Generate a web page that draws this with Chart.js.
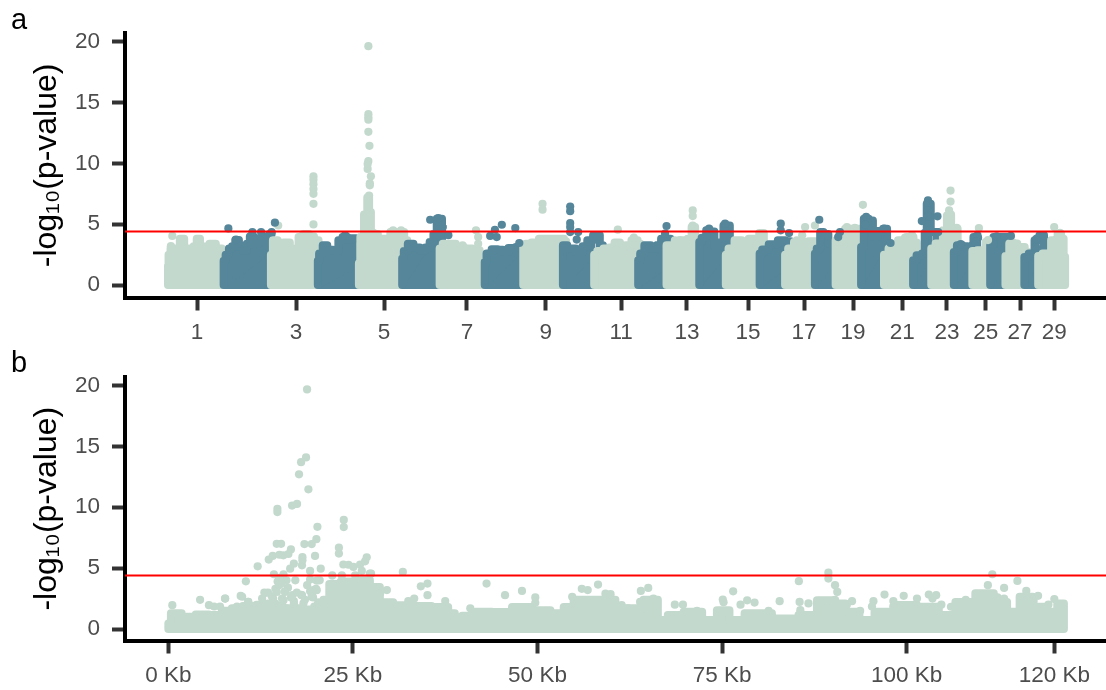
<!DOCTYPE html>
<html>
<head>
<meta charset="utf-8">
<style>
  html, body { margin: 0; padding: 0; background: #fff; }
  canvas { display: block; }
</style>
<script src="https://cdn.jsdelivr.net/npm/chart.js@4/dist/chart.umd.js"></script>
</head>
<body>
<canvas id="panelA" width="1106" height="345"></canvas>
<canvas id="panelB" width="1106" height="345"></canvas>
<script>
// --- DATA ---
const yTickValues = [0, 5, 10, 15, 20];
const threshold = 4.4;

// panel a: genome position (Mb) and chromosome labels
const chromTicks = [91, 363, 605, 833, 1050, 1257, 1438, 1606, 1760, 1895, 2030, 2153, 2260, 2354, 2448];
const chromLabels = ['1', '3', '5', '7', '9', '11', '13', '15', '17', '19', '21', '23', '25', '27', '29'];

// top of the dense cloud of each chromosome, [Mb, -log10 p]
const chromTops = [
  [[11,0],[11,1.6],[14,2.5],[22,3.0],[38,2.8],[49,3.8],[62,2.7],[77,3.0],[86,3.2],[94,3.8],[104,3.2],[115,3.0],[135,3.4],[150,3.0],[168,2.8],[172,2.8],[172,0]],
  [[164,0],[164,2.0],[175,2.5],[182,3.0],[192,3.2],[200,3.7],[212,3.2],[223,2.8],[232,3.4],[240,4.0],[253,3.3],[262,3.6],[272,4.0],[285,3.6],[296,4.2],[292,2.6],[286,1.0],[286,0]],
  [[294,0],[294,2.5],[305,3.68],[320,3.3],[337,3.5],[355,2.9],[366,3.0],[374,3.95],[392,4.2],[405,4.0],[420,3.68],[430,3.0],[430,0]],
  [[423,0],[423,2.0],[430,2.6],[443,3.27],[455,2.9],[475,2.8],[484,3.68],[498,3.95],[510,3.7],[520,3.85],[535,3.8],[546,3.8],[535,1.5],[530,0]],
  [[536,0],[536,1.8],[544,3.95],[556,5.8],[562,7.2],[566,6.0],[572,4.3],[580,4.2],[596,3.8],[615,3.8],[630,4.36],[645,3.9],[654,4.36],[667,3.68],[671,2.5],[671,0]],
  [[655,0],[655,2.18],[664,2.8],[677,3.4],[695,3.1],[712,2.86],[725,3.1],[736,3.55],[746,4.2],[754,5.45],[762,5.45],[767,4.77],[762,2.0],[762,0]],
  [[758,0],[758,3.0],[775,3.4],[791,3.4],[814,3.14],[836,3.0],[859,2.86],[877,2.45],[892,2.4],[892,0]],
  [[882,0],[882,1.9],[892,2.6],[910,2.95],[925,2.9],[938,2.73],[956,3.05],[979,3.14],[992,2.86],[985,0]],
  [[988,0],[988,3.2],[1001,3.4],[1020,3.5],[1042,3.8],[1067,3.8],[1094,3.8],[1106,3.6],[1106,0]],
  [[1097,0],[1097,3.27],[1121,3.0],[1144,2.73],[1158,3.2],[1170,3.68],[1190,4.1],[1207,3.27],[1190,2.5],[1186,0]],
  [[1183,0],[1183,2.5],[1200,2.8],[1217,3.0],[1232,3.1],[1246,3.5],[1262,3.2],[1276,3.27],[1295,3.68],[1310,3.4],[1310,0]],
  [[1304,0],[1304,2.05],[1315,2.6],[1327,3.27],[1350,3.0],[1362,3.3],[1372,3.82],[1386,3.8],[1400,3.0],[1389,1.5],[1384,0]],
  [[1382,0],[1382,3.27],[1400,3.27],[1433,3.68],[1447,3.8],[1455,4.77],[1466,3.8],[1480,3.6],[1480,0]],
  [[1472,0],[1472,3.55],[1485,3.9],[1497,4.5],[1507,4.4],[1520,3.14],[1534,3.5],[1543,4.9],[1551,4.9],[1561,2.86],[1551,0]],
  [[1545,0],[1545,2.5],[1560,3.0],[1578,3.68],[1600,3.4],[1616,3.82],[1630,3.7],[1644,4.28],[1655,2.6],[1655,0]],
  [[1638,0],[1638,2.6],[1652,2.92],[1674,3.35],[1702,3.68],[1716,3.6],[1730,2.86],[1719,1.5],[1712,0]],
  [[1708,0],[1708,2.5],[1725,3.0],[1740,3.55],[1763,3.55],[1782,3.6],[1800,3.0],[1800,0]],
  [[1790,0],[1790,2.6],[1800,3.0],[1809,4.36],[1818,4.2],[1836,3.4],[1859,3.0],[1867,2.9],[1852,2.0],[1850,0]],
  [[1847,0],[1847,3.68],[1865,4.2],[1881,4.64],[1914,4.64],[1930,3.0],[1930,0]],
  [[1917,0],[1917,3.14],[1932,5.45],[1944,5.3],[1955,3.95],[1969,4.45],[1986,4.64],[1991,3.4],[1982,0]],
  [[1980,0],[1980,2.5],[2005,3.0],[2032,3.68],[2052,3.95],[2070,3.5],[2070,0]],
  [[2060,0],[2060,2.05],[2079,2.45],[2090,2.6],[2094,4.3],[2101,6.68],[2106,6.68],[2111,4.36],[2134,4.36],[2115,2.5],[2113,0]],
  [[2110,0],[2110,3.0],[2134,3.41],[2150,4.5],[2156,5.73],[2162,5.8],[2167,4.6],[2180,4.64],[2185,3.0],[2185,0]],
  [[2172,0],[2172,2.73],[2189,3.27],[2203,3.2],[2217,2.86],[2235,3.95],[2239,3.9],[2233,2.2],[2226,0]],
  [[2223,0],[2223,2.8],[2250,2.86],[2269,3.55],[2285,3.0],[2285,0]],
  [[2272,0],[2272,3.27],[2290,3.95],[2317,3.95],[2335,2.86],[2321,1.5],[2318,0]],
  [[2314,0],[2314,2.4],[2335,3.41],[2358,3.14],[2376,2.73],[2376,0]],
  [[2366,0],[2366,2.3],[2390,2.6],[2398,3.68],[2417,4.09],[2423,2.7],[2408,0]],
  [[2404,0],[2404,2.4],[2428,2.6],[2451,3.68],[2464,4.23],[2470,3.8],[2478,2.32],[2478,0]]
];

// single SNPs standing out of the cloud
const lightHits = [
  [23,4.04],[19,3.2],[314,4.9],[411,8.95],[411,8.67],[411,8.3],[411,7.9],[411,7.5],[411,6.68],[411,4.99],
  [562,19.64],[562,14.05],[562,13.8],[562,13.6],[562,12.6],[565,11.45],[562,10.2],[560,9.96],[560,9.55],
  [569,8.95],[566,8.37],[566,8.2],[564,7.36],[630,4.5],[652,4.5],[858,4.5],[864,3.95],[864,3.4],[821,3.27],
  [1041,6.68],[1041,6.2],[1248,4.56],[1292,3.9],[1454,6.14],[1454,5.67],[1454,4.9],[1405,3.68],[1419,3.68],
  [1763,4.77],[1755,4.09],[1740,3.68],[1790,4.9],[1922,6.6],[1878,4.77],[1900,4.7],[2038,3.9],[2057,4.1],
  [2163,7.77],[2163,6.87],[2159,6.14],[2180,4.7],[2241,4.69],[2266,3.7],[2335,3.5],[2448,4.77],[2451,3.7],[2464,4.3]
];
const darkHits = [
  [177,4.66],[305,5.13],[198,3.74],[243,4.36],[267,4.36],[296,4.36],[498,4.1],[732,5.37],[754,5.5],[782,4.1],
  [897,4.04],[915,3.95],[910,4.55],[929,4.96],[966,4.69],[977,3.46],[1117,6.46],[1117,6.08],[1117,5.1],[1117,4.77],
  [1117,4.36],[1139,4.36],[1135,3.74],[1382,4.86],[1378,4.23],[1499,4.64],[1543,5.05],[1696,5.05],[1696,4.5],
  [1719,4.28],[1802,5.37],[1859,4.36],[1854,3.95],[1931,5.6],[1928,4.96],[1998,3.46],[1980,4.64],[2101,6.96],
  [2101,6.68],[2101,6.14],[2101,5.6],[2084,5.26],[2127,5.65],[2129,4.36],[2191,3.36],[2237,4.09],[2233,3.55],
  [2290,4.0],[2329,4.04],[2400,3.82],[2418,4.09],[2398,3.1]
];

// panel b: position in Kb
const kbTicks = [0, 25, 50, 75, 100, 120];
const kbTop = [
  [0,0],[0,0.46],[0.7,1.3],[2.9,1.0],[4.5,1.2],[6.5,1.15],[8,1.5],[9.2,1.7],[11,1.9],[12.9,2.0],[14,2.1],[15,1.9],
  [16,1.7],[17.5,1.7],[19,1.6],[20.5,1.85],[21.5,2.4],[22.1,3.7],[24.6,3.9],[26.4,4.0],[28.2,3.45],[29.1,2.2],
  [31.8,1.95],[34,1.9],[37.3,1.8],[38.5,1.3],[39.1,0.87],[40.5,1.1],[42.7,1.43],[45,1.4],[48.1,1.8],[50.4,1.55],
  [53.1,1.3],[54,1.8],[55.8,2.4],[59.9,2.4],[61.2,1.7],[63,1.7],[65.7,2.4],[66.9,0.74],[68.4,1.15],[71.2,1.43],
  [73.4,0.74],[75.2,1.55],[76.8,0.74],[79.3,1.3],[84.2,0.87],[86.5,1.15],[89.2,2.37],[90.6,2.1],[92.8,1.43],
  [94.4,0.74],[96.9,1.43],[99.6,1.97],[103.2,1.83],[105.5,1.15],[107.7,2.23],[110.9,2.93],[112.7,2.23],[114.5,1.43],
  [116.1,2.66],[118.1,1.83],[119.5,1.43],[121.3,2.1],[121.3,0]
];
const kbHits = [
  [18.79,19.67],[18.65,14.09],[17.98,13.7],[17.7,12.7],[18.97,11.47],[16.76,10.14],[17.43,10.27],[14.77,9.86],[14.77,9.6],
  [23.76,8.96],[23.76,8.37],[20.19,8.39],[20.05,7.38],[18.43,6.98],[19.42,6.98],[14.68,7.0],[15.27,7.0],[16.6,6.54],
  [23.1,6.68],[23.1,6.2],[16.26,6.16],[15.58,6.05],[15.04,6.1],[14.14,6.0],[13.6,5.7],[18.16,5.9],[18.16,5.64],[19.87,6.0],
  [12.1,5.15],[20.64,4.96],[26.87,5.89],[26.65,5.56],[23.7,5.3],[24.4,5.28],[25.07,5.1],[25.97,5.3],[17,5.37],[16.5,4.96],
  [18.1,5.23],[19.2,4.77],[14.3,4.5],[15.6,4.5],[27.46,4.55],[26.2,4.77],[10.5,3.92],[17.2,4.0],[16,4.0],[19.2,4.06],[20.5,4.0],
  [4.3,2.4],[0.54,1.96],[7.68,2.5],[9.8,2.72],[13,3.0],[5.5,1.96],[10.84,2.23],[31.76,4.69],[34.2,3.51],[35.1,3.73],[35.1,2.78],
  [43.1,3.73],[45.6,2.78],[47.9,3.13],[40.9,1.7],[49.7,2.6],[49.7,2.15],[56,3.3],[56.8,3.2],[58.2,3.65],[59.2,2.9],[59.9,2.86],
  [54.7,2.65],[29.6,3.2],[37.5,2.3],[32.5,2.3],[33.3,2.5],[89.4,4.63],[89.4,4.14],[85.4,3.93],[90.3,3.6],[90.6,3.05],[76.5,3.1],
  [111.6,4.5],[115,3.95],[113.2,3.38],[111,3.6],[65,3.38],[64,3.13],[63.9,2.23],[61.4,1.97],[75.1,2.42],[78.4,2.36],[79.4,2.17],
  [82.8,2.29],[85.5,2.23],[86.7,2.1],[92.6,2.29],[95.5,2.29],[97,2.83],[99.6,2.73],[101.4,2.5],[103,2.83],[104,2.78],[106,1.83],
  [116.2,3.13],[117.8,2.73],[120,2.46],
  // the hump under the main peak
  [13.5,3.0],[14,2.7],[14.5,3.3],[15,3.6],[15.4,2.5],[15.8,3.1],[16.2,3.4],[16.6,2.6],[17,2.3],[17.4,3.0],[18,2.8],[18.5,2.4],
  [19.2,3.1],[19.6,2.6],[20,3.3],[20.3,2.2],[15,4.2],[14.8,3.9],[18.8,3.6],[19.6,3.2],
  [14.7,3.05],[15.8,3.05],[15.3,3.73],[16.8,2.78],[18.1,2.78],[20.1,3.97],[20.1,3.19],[19.4,2.65],[13.1,2.96],[12.7,2.5],
  [14.2,2.5],[15.6,2.37],[17,2.1],[18.3,2.1],[19.7,1.55],[16,1.7],[14.5,1.7],[10.8,2.23],[10,2.65],[7.7,2.5],[7,1.85],
  [6.2,1.85],[9.3,1.85],[22.2,3.73],[22.2,4.4],[23.5,4.4],[25.3,4.4],[27.3,4.55],[26.4,3.85],[28.7,2.95],
  // bumps along the rest of the region
  [65.7,2.5],[62.3,1.7],[68.6,2.0],[69.7,2.0],[71.6,1.5],[75.2,2.2],[77.5,2.0],[81.3,1.5],[85.6,1.55],[89,2.2],[90.3,2.4],
  [91.9,2.0],[93.7,1.5],[95.3,1.85],[98.2,2.3],[98.2,1.85],[103.5,2.5],[104.7,2.0],[108,2.4],[112.3,2.6],[113.2,2.5],
  [116.1,2.7],[117.2,2.3],[119.2,2.0]
];

// --- STYLE ---
const LIGHT = '#c3d9cd';
const DARK = '#55869a';
const FONT = '"Liberation Sans", Arial, sans-serif';

const toPoints = list => list.map(p => ({ x: p[0], y: p[1] }));

function cloud(list, color, order) {
  return {
    type: 'scatter', data: toPoints(list), showLine: true, pointRadius: 0, order: order,
    borderColor: color, backgroundColor: color, borderWidth: 8, stepped: 'middle',
    borderJoinStyle: 'round', borderCapStyle: 'round', fill: { value: -0.33 }
  };
}
function hits(list, color, order) {
  return { type: 'scatter', data: toPoints(list), showLine: false, pointRadius: 4.1, pointBorderWidth: 0, pointBackgroundColor: color, order: order };
}
function redLine(xMin, xMax) {
  return {
    type: 'scatter', data: [{ x: xMin, y: threshold }, { x: xMax, y: threshold }], showLine: true, pointRadius: 0,
    borderColor: '#ff0000', borderWidth: 2, order: 0
  };
}

function panel(id, letter, datasets, o) {
  return new Chart(document.getElementById(id), {
    type: 'scatter',
    data: { datasets: datasets },
    options: {
      responsive: false, animation: false, events: [],
      layout: { autoPadding: false, padding: { left: 11, right: 0, top: 0, bottom: 0 } },
      plugins: {
        legend: { display: false }, tooltip: { enabled: false },
        title: { display: true, text: letter, align: 'start', color: '#000', font: { family: FONT, size: 29, weight: 'normal', lineHeight: 1.1 }, padding: { top: o.titleTop, bottom: o.titleBottom } }
      },
      scales: {
        x: {
          type: 'linear', min: o.xMin, max: o.xMax,
          afterBuildTicks: s => { s.ticks = o.xTicks.map(v => ({ value: v })); },
          afterFit: s => { s.height = o.bottomGap; },
          ticks: { autoSkip: false, maxRotation: 0, color: '#4d4d4d', padding: 9, font: { family: FONT, size: 22.5 }, callback: (v, i) => o.xLabels[i] },
          grid: { drawOnChartArea: false, tickColor: '#333333', tickWidth: 4, tickLength: 13 },
          border: { color: '#000', width: 4 }
        },
        y: {
          type: 'linear', min: o.yMin, max: 20.7,
          afterBuildTicks: s => { s.ticks = yTickValues.map(v => ({ value: v })); },
          afterFit: s => { s.width = 114; },
          title: { display: true, text: '-log₁₀(p-value)', color: '#000', font: { family: FONT, size: 32 }, padding: { top: 17, bottom: 0 } },
          ticks: { color: '#4d4d4d', padding: 12, font: { family: FONT, size: 22.5 } },
          grid: { drawOnChartArea: false, tickColor: '#333333', tickWidth: 4, tickLength: 13 },
          border: { color: '#000', width: 4 }
        }
      }
    }
  });
}

// --- CHARTS ---
const aMin = -107.25, aMax = 2590.5;
const aSets = [redLine(aMin, aMax), hits(darkHits, DARK, 1), hits(lightHits, LIGHT, 2)];
chromTops.forEach((top, i) => aSets.push(cloud(top, i % 2 ? DARK : LIGHT, 100 - i)));
panel('panelA', 'a', aSets, {
  xMin: aMin, xMax: aMax, xTicks: chromTicks, xLabels: chromLabels, yMin: -1.02, bottomGap: 47.5, titleTop: 5, titleBottom: -3.6
});

const bMin = -5.87, bMax = 127;
panel('panelB', 'b', [redLine(bMin, bMax), hits(kbHits, LIGHT, 1), cloud(kbTop, LIGHT, 2)], {
  xMin: bMin, xMax: bMax, xTicks: kbTicks, xLabels: kbTicks.map(v => v + ' Kb'), yMin: -0.94, bottomGap: 49.5, titleTop: 3, titleBottom: -3
});
</script>
</body>
</html>
